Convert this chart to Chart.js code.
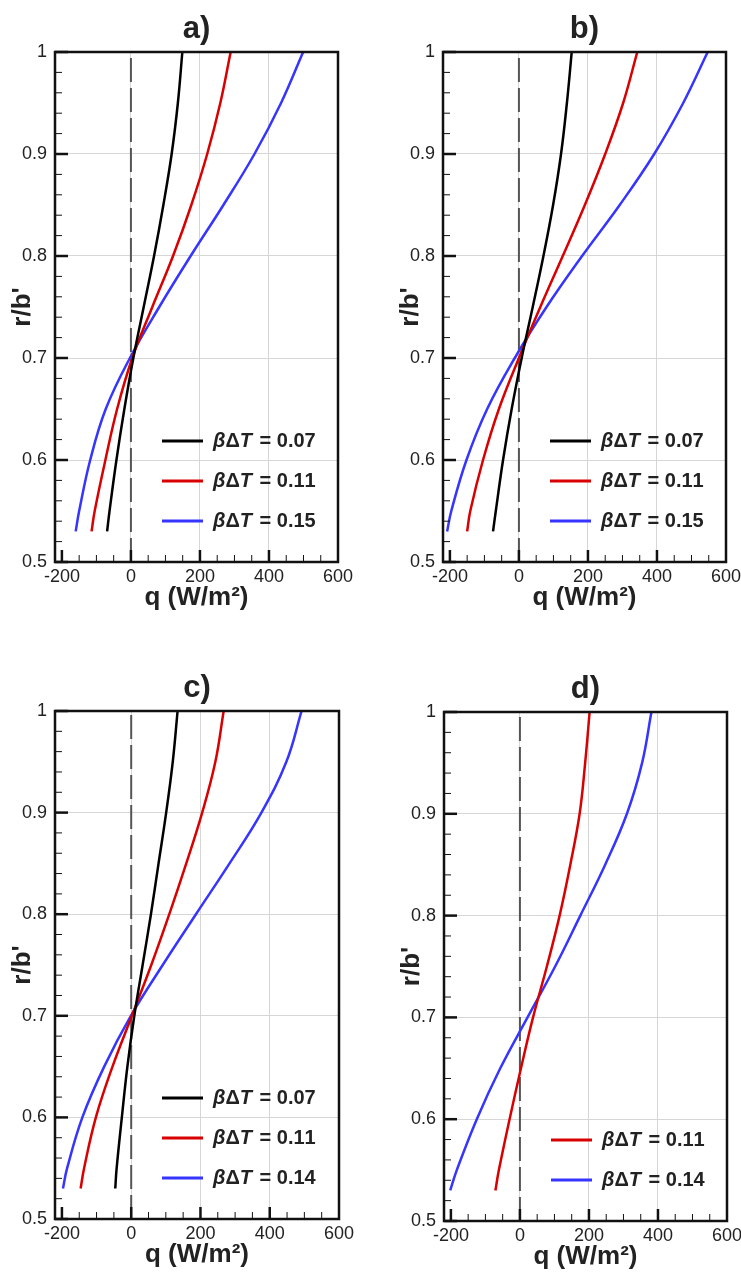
<!DOCTYPE html>
<html>
<head>
<meta charset="utf-8">
<title>Heat flux profiles</title>
<script src="https://cdn.jsdelivr.net/npm/chart.js@4.4.1/dist/chart.umd.min.js"></script>
<style>
  html, body { margin: 0; padding: 0; background: #fff; }
  body { position: relative; width: 741px; height: 1275px; overflow: hidden; }
  canvas { position: absolute; }
</style>
</head>
<body>
<canvas id="panelA"></canvas>
<canvas id="panelB"></canvas>
<canvas id="panelC"></canvas>
<canvas id="panelD"></canvas>
<script>
// r/b' positions where the curves were read
const rValues = [0.53, 0.55, 0.6, 0.65, 0.7, 0.75, 0.8, 0.85, 0.9, 0.95, 1.0];

// axis ticks
const xTicks = [-200, 0, 200, 400, 600];
const yTicks = [0.5, 0.6, 0.7, 0.8, 0.9, 1.0];
const yTickLabels = ['0.5', '0.6', '0.7', '0.8', '0.9', '1'];

// q = 0 reference line
const zeroQ = [0, 0];
const zeroR = [0.5, 1.0];

// panel a
const betaA = ['0.07', '0.11', '0.15'];
const qA07 = [-69, -62, -42, -19, 7, 37, 67, 94, 118, 136, 149];
const qA11 = [-114, -105, -74, -40, 4, 62, 122, 175, 221, 259, 289];
const qA15 = [-160, -150, -118, -73, -3, 82, 173, 268, 358, 435, 499];

// panel b
const betaB = ['0.07', '0.11', '0.15'];
const qB07 = [-75, -67, -46, -21, 8, 40, 71, 99, 122, 139, 153];
const qB11 = [-150, -141, -104, -58, 0, 62, 127, 191, 250, 302, 343];
const qB15 = [-208, -196, -152, -92, -12, 80, 183, 292, 392, 476, 547];

// panel c
const betaC = ['0.07', '0.11', '0.14'];
const qC07 = [-46, -42, -27, -11, 9, 33, 57, 79, 101, 120, 134];
const qC11 = [-146, -136, -102, -54, 2, 58, 110, 159, 205, 243, 267];
const qC14 = [-197, -185, -141, -78, -1, 91, 187, 284, 376, 448, 492];

// panel d
const betaD = ['0.11', '0.14'];
const qD11 = [-71, -61, -30, 3, 38, 78, 115, 146, 173, 189, 202];
const qD14 = [-202, -183, -125, -57, 22, 102, 175, 247, 310, 354, 381];

const FONT = '"Liberation Sans", Arial, Helvetica, sans-serif';
Chart.defaults.font.family = FONT;
Chart.defaults.color = '#222';

const BLACK = '#000000';
const RED = '#d80000';
const BLUE = '#3535ff';

// inward ticks and the black frame
const axisDecor = {
  id: 'axisDecor',
  afterDatasetsDraw(chart) {
    const { ctx, chartArea: a, scales: { x, y } } = chart;
    ctx.save();
    ctx.strokeStyle = '#111';
    for (let k = 0; k <= 25; k++) {
      const major = k % 5 === 0;
      const py = y.getPixelForValue(0.5 + k * 0.02);
      ctx.lineWidth = major ? 2.5 : 1;
      ctx.beginPath();
      ctx.moveTo(a.left, py);
      ctx.lineTo(a.left + (major ? 13 : 7), py);
      ctx.stroke();
    }
    for (let v = -200; v <= 550; v += 50) {
      const major = v % 200 === 0;
      const px = x.getPixelForValue(v);
      ctx.lineWidth = major ? 2.5 : 1;
      ctx.beginPath();
      ctx.moveTo(px, a.bottom);
      ctx.lineTo(px, a.bottom - (major ? 12 : 7));
      ctx.stroke();
    }
    ctx.lineWidth = 2.5;
    ctx.strokeRect(a.left, a.top, a.right - a.left, a.bottom - a.top);
    ctx.restore();
  }
};

// panel letter over the plot
const panelTitle = {
  id: 'panelTitle',
  afterDraw(chart, args, opts) {
    const { ctx, chartArea: a } = chart;
    ctx.save();
    ctx.font = 'bold 31px ' + FONT;
    ctx.fillStyle = '#222';
    ctx.textAlign = 'center';
    ctx.textBaseline = 'middle';
    ctx.fillText(opts.text, (a.left + a.right) / 2, a.top - 23);
    ctx.restore();
  }
};

// legend inside the plot, bottom right; β and T in italics
const betaLegend = {
  id: 'betaLegend',
  afterDraw(chart) {
    const { ctx, chartArea: a } = chart;
    const items = chart.data.datasets.filter(d => d.label);
    ctx.save();
    ctx.textBaseline = 'middle';
    ctx.fillStyle = '#222';
    items.forEach((d, i) => {
      const y = a.bottom - 41 - (items.length - 1 - i) * 40;
      ctx.strokeStyle = d.borderColor;
      ctx.lineWidth = 3;
      ctx.beginPath();
      ctx.moveTo(a.left + 107, y);
      ctx.lineTo(a.left + 148, y);
      ctx.stroke();
      let x = a.left + 158;
      for (const ch of d.label) {
        const it = ch === 'β' || ch === 'T';
        ctx.font = (it ? 'italic ' : '') + 'bold 20px ' + FONT;
        ctx.fillText(ch, x, y);
        x += ctx.measureText(ch).width + (ch === 'T' ? 2 : 0);
      }
    });
    ctx.restore();
  }
};

function curve(beta, q, color) {
  return {
    label: 'βΔT = ' + beta,
    data: q.map((v, i) => ({ x: v, y: rValues[i] })),
    borderColor: color,
    borderWidth: 2.5,
    pointRadius: 0,
    tension: 0.4,
    showLine: true
  };
}

function zeroLine() {
  return {
    data: zeroQ.map((v, i) => ({ x: v, y: zeroR[i] })),
    borderColor: '#555555',
    borderWidth: 2,
    borderDash: [24, 6],
    pointRadius: 0,
    showLine: true
  };
}

// box = canvas [left, top, width, height], plot = [left, top, right, bottom], page pixels
function makePanel(id, box, plot, letter, datasets) {
  const [bl, bt, bw, bh] = box;
  const [pl, pt, pr, pb] = plot;
  const canvas = document.getElementById(id);
  canvas.width = bw;
  canvas.height = bh;
  canvas.style.left = bl + 'px';
  canvas.style.top = bt + 'px';
  const xHeight = bt + bh - pb;
  const xTitleGap = xHeight - 36 - 15.6;

  return new Chart(canvas, {
    type: 'scatter',
    data: { datasets: datasets.concat([zeroLine()]) },
    options: {
      responsive: false,
      animation: false,
      devicePixelRatio: 1,
      layout: { padding: { left: 0, top: pt - bt, right: bl + bw - pr, bottom: 0 } },
      plugins: {
        legend: { display: false },
        tooltip: { enabled: false },
        panelTitle: { text: letter }
      },
      scales: {
        x: {
          type: 'linear',
          min: -220,
          max: 600,
          afterBuildTicks: s => { s.ticks = xTicks.map(v => ({ value: v })); },
          afterFit: s => { s.height = xHeight; s.paddingLeft = 0; s.paddingRight = 0; },
          border: { display: false },
          grid: {
            drawTicks: false,
            lineWidth: 1,
            color: c => (c.tick && (c.tick.value === -200 || c.tick.value === 600)) ? 'rgba(0,0,0,0)' : '#d6d6d6'
          },
          ticks: { padding: 4, autoSkip: false, maxRotation: 0, color: '#222', font: { size: 18 }, callback: v => String(v) },
          title: { display: true, text: 'q (W/m²)', color: '#222', font: { size: 26, weight: 'bold' }, padding: { top: 0, bottom: xTitleGap } }
        },
        y: {
          type: 'linear',
          min: 0.5,
          max: 1.0,
          afterBuildTicks: s => { s.ticks = yTicks.map(v => ({ value: v })); },
          afterFit: s => { s.width = pl - bl; s.paddingTop = 0; s.paddingBottom = 0; },
          border: { display: false },
          grid: {
            drawTicks: false,
            lineWidth: 1,
            color: c => (c.tick && (c.tick.value === 0.5 || c.tick.value === 1)) ? 'rgba(0,0,0,0)' : '#d6d6d6'
          },
          ticks: { padding: 8, autoSkip: false, color: '#222', font: { size: 18 }, callback: (v, i) => yTickLabels[i] },
          title: { display: true, text: "r/b'", color: '#222', font: { size: 26, weight: 'bold' }, padding: { top: 7, bottom: 0 } }
        }
      }
    },
    plugins: [axisDecor, panelTitle, betaLegend]
  });
}

makePanel('panelA', [0, 0, 370, 640], [55, 52, 338, 562], 'a)', [
  curve(betaA[0], qA07, BLACK),
  curve(betaA[1], qA11, RED),
  curve(betaA[2], qA15, BLUE)
]);

makePanel('panelB', [388, 0, 353, 640], [443, 52, 726, 562], 'b)', [
  curve(betaB[0], qB07, BLACK),
  curve(betaB[1], qB11, RED),
  curve(betaB[2], qB15, BLUE)
]);

makePanel('panelC', [0, 659, 370, 616], [55, 711, 339, 1219], 'c)', [
  curve(betaC[0], qC07, BLACK),
  curve(betaC[1], qC11, RED),
  curve(betaC[2], qC14, BLUE)
]);

makePanel('panelD', [389, 660, 352, 615], [444, 712, 727, 1221], 'd)', [
  curve(betaD[0], qD11, RED),
  curve(betaD[1], qD14, BLUE)
]);
</script>
</body>
</html>
